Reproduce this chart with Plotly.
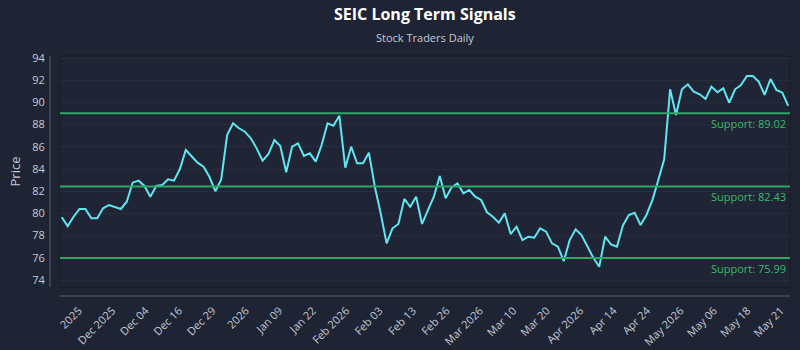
import plotly.graph_objects as go

prices = [79.65, 78.86, 79.7, 80.4, 80.4, 79.56, 79.56, 80.46, 80.76, 80.6,
          80.4, 81.05, 82.77, 82.95, 82.47, 81.5, 82.47, 82.56, 83.07, 82.95,
          84.0, 85.71, 85.1, 84.57, 84.21, 83.3, 82.0, 83.07, 87.06, 88.12,
          87.67, 87.36, 86.77, 85.86, 84.75, 85.35, 86.61, 86.07, 83.7, 86.01,
          86.31, 85.17, 85.41, 84.66, 86.16, 88.12, 87.9, 88.8, 84.12, 86.01,
          84.51, 84.51, 85.47, 82.41, 80.0, 77.3, 78.66, 79.05, 81.3, 80.6,
          81.5, 79.05, 80.3, 81.5, 83.37, 81.36, 82.35, 82.71, 81.81, 82.11,
          81.51, 81.21, 80.1, 79.7, 79.16, 80.0, 78.14, 78.8, 77.6, 77.9,
          77.81, 78.66, 78.36, 77.3, 77.0, 75.71, 77.6, 78.57, 78.05, 77.0,
          76.0, 75.2, 77.9, 77.2, 77.0, 78.9, 79.86, 80.06, 78.95, 79.86,
          81.2, 83.0, 84.87, 91.18, 88.86, 91.18, 91.63, 90.96, 90.73, 90.31,
          91.42, 90.91, 91.27, 89.97, 91.18, 91.57, 92.38, 92.38, 91.87, 90.67,
          92.11, 91.12, 90.88, 89.68]

tick_labels = ["2025", "Dec 2025", "Dec 04", "Dec 16", "Dec 29", "2026", "Jan 09",
               "Jan 22", "Feb 2026", "Feb 03", "Feb 13", "Feb 26", "Mar 2026",
               "Mar 10", "Mar 20", "Apr 2026", "Apr 14", "Apr 24", "May 2026",
               "May 06", "May 18", "May 21"]

supports = [89.02, 82.43, 75.99]
y_ticks = [74, 76, 78, 80, 82, 84, 86, 88, 90, 92, 94]

idx = list(range(len(prices)))
n_ticks = len(tick_labels)
tick_step = 5.66
tick_vals = [2.88 + tick_step * k for k in range(n_ticks)]

BG = "#1e2433"
TXT = "#c5cad5"
GREEN = "#2fa866"
PLOT_H = 350 - 56 - 63

fig = go.Figure()
fig.add_trace(go.Scatter(x=idx, y=prices, mode="lines",
                         line=dict(color="#60e6f0", width=2),
                         hoverinfo="y", showlegend=False))

for s in supports:
    fig.add_shape(type="line", xref="paper", x0=0, x1=1, yref="y", y0=s, y1=s,
                  line=dict(color=GREEN, width=2))
    fig.add_annotation(xref="paper", x=0.997, yref="y", y=s, xanchor="right",
                       yanchor="top", yshift=-1, showarrow=False,
                       text=f"Support: {s:.2f}",
                       font=dict(color="#3db86e", size=11, family="Open Sans"))

# title and subtitle
fig.add_annotation(xref="paper", yref="paper", x=0.5, y=1 + 42 / PLOT_H,
                   xanchor="center", yanchor="middle", showarrow=False,
                   text="<b>SEIC Long Term Signals</b>",
                   font=dict(size=16, color="#ffffff", family="Open Sans"))
fig.add_annotation(xref="paper", yref="paper", x=0.5, y=1 + 18 / PLOT_H,
                   xanchor="center", yanchor="middle", showarrow=False,
                   text="Stock Traders Daily",
                   font=dict(size=11, color=TXT, family="Open Sans"))

# plot frame and offset axis lines
fig.add_shape(type="rect", xref="paper", yref="paper", x0=0, x1=1, y0=0, y1=1,
              line=dict(color="#151a24", width=1), layer="below")
fig.add_shape(type="line", xref="paper", yref="paper", x0=-10/730, x1=-10/730,
              y0=0, y1=1, line=dict(color="#59606e", width=1))
fig.add_shape(type="line", xref="paper", yref="paper", x0=0, x1=1,
              y0=-9/PLOT_H, y1=-9/PLOT_H, line=dict(color="#59606e", width=1))

fig.update_layout(
    width=800, height=350,
    margin=dict(l=60, r=10, t=56, b=63),
    paper_bgcolor=BG, plot_bgcolor="#1f2535",
    font=dict(family="Open Sans", color=TXT, size=11),
    xaxis=dict(range=[-0.3, 123.3], tickmode="array", tickvals=tick_vals,
               ticktext=tick_labels, tickangle=-45, showgrid=False,
               zeroline=False, ticks="outside", ticklen=12, automargin=False,
               tickcolor="rgba(0,0,0,0)", tickfont=dict(size=11, color=TXT)),
    yaxis=dict(range=[73.37, 94.18], tickmode="array", tickvals=y_ticks,
               showgrid=True, gridcolor="#272d3d", gridwidth=1, zeroline=False,
               ticks="outside", ticklen=12, tickcolor="rgba(0,0,0,0)",
               tickfont=dict(size=11, color=TXT), automargin=False,
               title=dict(text="Price", font=dict(size=13, color=TXT), standoff=8)),
)

fig.write_html("out.html")
